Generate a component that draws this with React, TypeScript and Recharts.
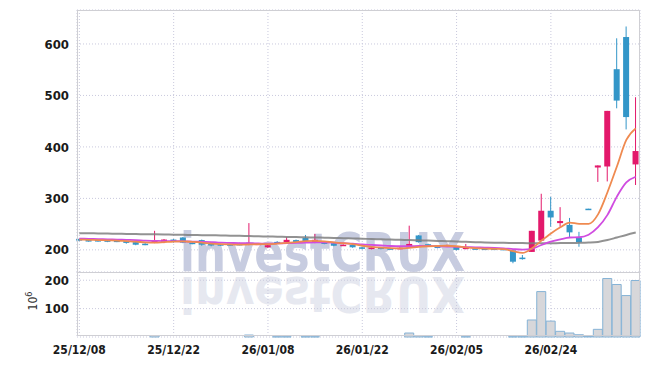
import { ComposedChart, Bar, Line, XAxis, YAxis, CartesianGrid } from 'recharts';

const dates = [
  '25/12/08', '25/12/09', '25/12/10', '25/12/11', '25/12/12', '25/12/15', '25/12/16', '25/12/17', '25/12/18', '25/12/19',
  '25/12/22', '25/12/23', '25/12/24', '25/12/26', '25/12/29', '25/12/30', '26/01/02', '26/01/05', '26/01/06', '26/01/07',
  '26/01/08', '26/01/09', '26/01/12', '26/01/13', '26/01/14', '26/01/15', '26/01/16', '26/01/19', '26/01/20', '26/01/21',
  '26/01/22', '26/01/23', '26/01/26', '26/01/27', '26/01/28', '26/01/29', '26/01/30', '26/02/02', '26/02/03', '26/02/04',
  '26/02/05', '26/02/06', '26/02/09', '26/02/10', '26/02/11', '26/02/12', '26/02/13', '26/02/19', '26/02/20', '26/02/23',
  '26/02/24', '26/02/25', '26/02/26', '26/02/27', '26/03/03', '26/03/04', '26/03/05', '26/03/06', '26/03/09', '26/03/10',
];

const opens = [
  221, 219, 219, 218.5, 218, 217, 215, 212, 214, 215.5,
  220, 224, 214, 219, 211.5, 211, 211, 211.5, 209.5, 211,
  205, 215.5, 215, 219, 223, 214, 215.5, 213, 208.5, 209.5,
  205, 201.5, 204.5, 203, 202, 205, 228, 211, 208.5, 206.5,
  206.5, 201.5, 203, 202.5, 202.5, 202, 199, 185, 196, 218,
  276, 252, 248.5, 224, 280, 360, 362, 551, 613.5, 366,
];
const closes = [
  218, 217, 217, 216, 216, 213.5, 210, 210, 218, 220,
  215.5, 214, 212.5, 210, 208.5, 209, 209.5, 210, 213, 212,
  209, 213, 219.5, 214, 217, 219.5, 211.5, 208, 210, 205,
  202, 204.5, 202, 201.5, 204, 211.5, 215, 206.5, 203.5, 209.5,
  200, 204.5, 201.5, 201.5, 201.5, 200.5, 177, 182, 237, 276,
  263, 256, 234, 215, 279.5, 364, 470, 490, 458, 392,
];
const highs = [
  222, 220, 220, 219, 219, 218, 216, 213, 237, 221,
  221, 225, 215, 220, 212, 212, 212, 214, 252, 213,
  210, 217, 225, 220, 229, 231, 216, 214, 211, 210,
  206, 205, 205, 204, 205, 247, 229, 212, 209, 210,
  207, 211.5, 204, 203, 203, 203, 199, 190, 237, 309,
  303, 283, 262, 235, 280, 364, 470, 611, 634, 496.5,
];
const lows = [
  217, 216, 216, 215, 215, 212, 209, 209, 213, 213,
  214, 213, 211, 208, 207, 208, 208.5, 209, 209, 210,
  204, 212, 214, 213, 216, 213, 211, 207, 208, 204,
  201, 201, 201, 201, 201, 204, 214, 206, 203, 206,
  199, 201, 201, 201, 201, 200, 174, 181, 196, 218,
  245, 245, 225, 206, 279.5, 332, 333, 475, 434, 326,
];

const ma5 = [
  220, 219.5, 219, 218.5, 218, 217, 216, 214.5, 214, 215,
  216, 216.5, 215.5, 214, 212, 211, 210.5, 210, 210.5, 211,
  211, 212, 213.5, 215, 217, 217.5, 216.5, 214.5, 213, 211,
  208, 206, 204.5, 203.5, 203, 204, 206, 207, 207.5, 208,
  207, 205, 203.5, 202.5, 202, 201.5, 197.5, 194, 203, 218,
  232, 244, 253, 250.5, 250.5, 269, 312, 362, 413.5, 436,
];
const ma20 = [
  222, 221.5, 221, 220.5, 220, 219.5, 219, 218, 217.5, 217,
  217, 216.5, 216, 215.5, 215, 214, 213.5, 213, 213, 212.5,
  212, 212.5, 213, 213.5, 214, 214.5, 214.5, 214, 213, 212,
  210.5, 209.5, 208.5, 207.5, 207, 207, 207.5, 207.5, 207, 206.5,
  206, 205.5, 205, 204.5, 204, 203, 201.5, 200.5, 202, 209.5,
  216, 220.5, 224, 224.5, 229.5, 244, 268, 303.5, 331, 342,
];
const ma60 = [
  232.5, 232.2, 231.9, 231.6, 231.3, 231, 230.7, 230.4, 230.1, 229.8,
  229.5, 229.2, 228.9, 228.6, 228.3, 228, 227.6, 227.2, 226.8, 226.4,
  226, 225.6, 225.2, 224.8, 224.4, 224, 223.6, 223.1, 222.6, 222.1,
  221.6, 221.1, 220.6, 220.1, 219.6, 219.1, 218.6, 218, 217.4, 216.8,
  216.2, 215.6, 215, 214.5, 214, 213.6, 213.3, 213.1, 213, 213,
  213, 213.1, 213.3, 213.6, 214.2, 215.5, 219, 224, 229, 233.6,
];

// millions of shares
const volumes = [
  0, 0, 0, 0, 0, 0, 0, 0, 5, 0,
  0, 0, 0, 0, 0, 0, 0, 0, 7, 0,
  0, 1, 1, 0, 1, 1, 0, 0, 0, 0,
  0, 0, 0, 0, 0, 14, 4, 1, 0, 0,
  0, 1, 0, 0, 0, 0, 1, 1, 60, 160,
  56, 20, 14, 8, 2, 27, 206, 185, 146, 199,
];

const priceTicks = [200, 300, 400, 500, 600];
const volumeTicks = [100, 200];
const dateTicks = [0, 10, 20, 30, 40, 50];

const UP = '#e3196b';
const DOWN = '#3396c8';
const FONT = "'DejaVu Sans Condensed', 'DejaVu Sans', sans-serif";
const X_DOMAIN = [-0.25, 59.45];

const rows = dates.map((d, i) => ({
  i,
  date: d,
  open: opens[i],
  close: closes[i],
  high: highs[i],
  low: lows[i],
  range: [lows[i], highs[i]],
  ma5: ma5[i],
  ma20: ma20[i],
  ma60: ma60[i],
  vol: volumes[i] || null,
}));

function Candle(props: any) {
  const { x, y, width, height, payload } = props;
  if (x == null || y == null) return null;
  const top = Math.min(y, y + height);
  const bottom = Math.max(y, y + height);
  const span = payload.high - payload.low;
  const k = span > 0 ? (bottom - top) / span : 0;
  const yOf = (v: number) => top + (payload.high - v) * k;
  const up = payload.close >= payload.open;
  const color = up ? UP : DOWN;
  const cx = x + width / 2;
  const bTop = yOf(Math.max(payload.open, payload.close));
  const bBot = yOf(Math.min(payload.open, payload.close));
  return (
    <g>
      <line x1={cx} x2={cx} y1={top} y2={bottom} stroke={color} strokeWidth={1} />
      <rect x={cx - 3} y={bTop} width={6} height={Math.max(bBot - bTop, 1.5)} fill={color} />
    </g>
  );
}

const tickStyle = { fontSize: 13, fill: '#1a1a1a', fontFamily: FONT, fontWeight: 'bold' };

export default function App() {
  return (
    <div style={{ position: 'absolute', left: 0, top: 0, width: 650, height: 366, background: '#fff' }}>
      <svg width={650} height={366} style={{ position: 'absolute', left: 0, top: 0 }}>
        <text x={180} y={271} fontSize={54} fontWeight="bold" fontFamily="'DejaVu Sans', sans-serif"
          fill="#c7cce0" textLength={285} lengthAdjust="spacingAndGlyphs">investCRUX</text>
        <text x={180} y={271} fontSize={50} fontWeight="bold" fontFamily="'DejaVu Sans', sans-serif"
          fill="#e6e8f0" textLength={285} lengthAdjust="spacingAndGlyphs"
          transform="translate(0, 548) scale(1, -1)">investCRUX</text>
        <text transform="translate(37, 301) rotate(-90)" textAnchor="middle" fontSize={12}
          fontFamily={FONT} fill="#333">10<tspan dy={-5} fontSize={9}>6</tspan></text>
      </svg>

      <div style={{ position: 'absolute', left: 0, top: 0 }}>
        <ComposedChart width={650} height={273} data={rows} margin={{ top: 10, right: 10, bottom: 1, left: 17 }}>
          <CartesianGrid stroke="#c9c9dd" strokeDasharray="1 2" />
          <XAxis dataKey="i" type="number" domain={X_DOMAIN} ticks={dateTicks} hide />
          <YAxis domain={[157, 666]} ticks={priceTicks} width={60} axisLine={false} tickLine={false} tick={tickStyle} />
          <Line type="monotone" dataKey="ma60" stroke="#7f7f7f" strokeOpacity={0.85} strokeWidth={2} dot={false} isAnimationActive={false} />
          <Line type="monotone" dataKey="ma20" stroke="#d04ce0" strokeWidth={1.8} dot={false} isAnimationActive={false} />
          <Line type="monotone" dataKey="ma5" stroke="#ef8a50" strokeWidth={1.8} dot={false} isAnimationActive={false} />
          <Bar dataKey="range" barSize={7} shape={<Candle />} isAnimationActive={false} />
        </ComposedChart>
      </div>

      <div style={{ position: 'absolute', left: 0, top: 272 }}>
        <ComposedChart width={650} height={94} data={rows} margin={{ top: 0, right: 10, bottom: 0, left: 17 }}>
          <CartesianGrid stroke="#c9c9dd" strokeDasharray="1 2" />
          <XAxis dataKey="i" type="number" domain={X_DOMAIN} ticks={dateTicks} height={29}
            tickFormatter={(v: number) => dates[v]} axisLine={false} tickLine={false}
            tick={{ fontSize: 12, fill: '#1a1a1a', fontFamily: FONT, fontWeight: 'bold' }} />
          <YAxis domain={[0, 229]} ticks={volumeTicks} width={60} axisLine={false} tickLine={false} tick={tickStyle} />
          <Bar dataKey="vol" barSize={9} fill="#d7d7da" stroke="#86b3d6" strokeWidth={1} isAnimationActive={false} />
        </ComposedChart>
      </div>

      <div style={{ position: 'absolute', left: 77, top: 10, width: 563, height: 326, border: '1px solid #cfcfd4', boxSizing: 'border-box', pointerEvents: 'none' }} />
      <div style={{ position: 'absolute', left: 77, top: 272, width: 563, height: 1, background: '#cfcfd4' }} />
    </div>
  );
}
